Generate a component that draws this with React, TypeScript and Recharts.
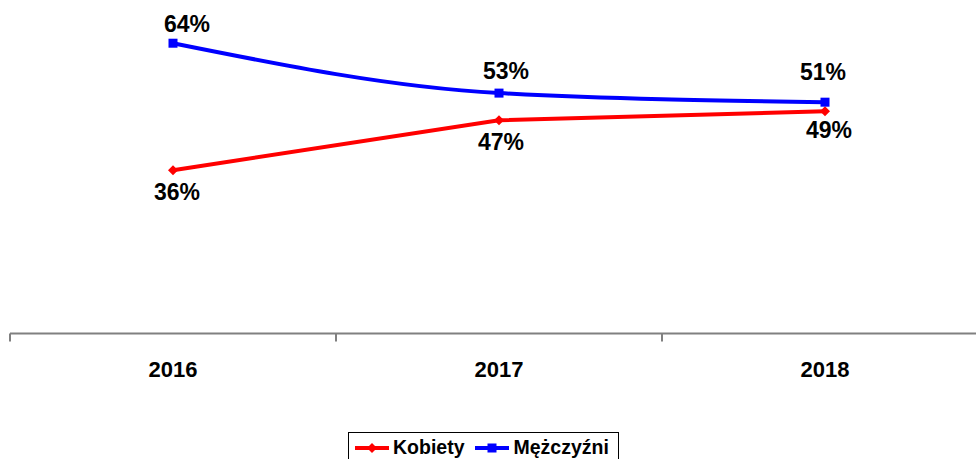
import React from 'react';
import { LineChart, Line, XAxis, YAxis, Legend } from 'recharts';

const years = ['2016', '2017', '2018'];
const kobiety = [36, 47, 49];
const mezczyzni = [64, 53, 51];
const axisTicks = [0, 0.5, 1, 1.5, 2, 2.5, 3];

const data = years.map((y, i) => ({ pos: i + 0.5, year: y, k: kobiety[i], m: mezczyzni[i] }));

const FONT = '"Liberation Sans", Arial, Helvetica, sans-serif';

// label placement tweaks (styling only)
const kOffsets = [[4, 30], [2, 30], [4, 27]];
const mOffsets = [[14, -11], [7, -14], [-2, -22]];

const AxisTick = (props: any) => {
  const { x, y, payload } = props;
  const v = payload.value;
  if (Number.isInteger(v)) {
    return <line x1={x} x2={x} y1={y} y2={y + 8} stroke="#808080" strokeWidth={2} />;
  }
  const idx = Math.floor(v);
  return (
    <text x={x} y={y + 43} textAnchor="middle" fontFamily={FONT} fontWeight="bold" fontSize={22} fill="#000">
      {years[idx]}
    </text>
  );
};

const makeLabel = (offsets: number[][]) => (props: any) => {
  const { x, y, value, index } = props;
  const [dx, dy] = offsets[index] || [0, 0];
  return (
    <text x={x + dx} y={y + dy} textAnchor="middle" fontFamily={FONT} fontWeight="bold" fontSize={23} fill="#000">
      {value}%
    </text>
  );
};

const Diamond = (props: any) => {
  const { cx, cy } = props;
  if (cx == null || cy == null) return null;
  const r = 5;
  return <path d={`M${cx},${cy - r}L${cx + r},${cy}L${cx},${cy + r}L${cx - r},${cy}Z`} fill="#FF0000" />;
};

const Square = (props: any) => {
  const { cx, cy } = props;
  if (cx == null || cy == null) return null;
  return <rect x={cx - 4.5} y={cy - 4.5} width={9} height={9} fill="#0000FF" />;
};

const LegendContent = () => (
  <div
    style={{
      border: '1px solid #000',
      background: '#fff',
      display: 'flex',
      alignItems: 'center',
      padding: '3px 9px 6px 6px',
      fontFamily: FONT,
      fontWeight: 'bold',
      fontSize: 19.5,
      color: '#000',
      whiteSpace: 'nowrap',
    }}
  >
    <svg width={34} height={12} style={{ marginRight: 4 }}>
      <line x1={0} x2={34} y1={6} y2={6} stroke="#FF0000" strokeWidth={4} />
      <path d="M17,1L22,6L17,11L12,6Z" fill="#FF0000" />
    </svg>
    <span style={{ marginRight: 10 }}>Kobiety</span>
    <svg width={34} height={12} style={{ marginRight: 5 }}>
      <line x1={0} x2={34} y1={6} y2={6} stroke="#0000FF" strokeWidth={4} />
      <rect x={12.5} y={1.5} width={9} height={9} fill="#0000FF" />
    </svg>
    <span>Mężczyźni</span>
  </div>
);

export default function App() {
  return (
    <div style={{ position: 'absolute', left: 0, top: 0, width: 976, height: 459, overflow: 'hidden', background: '#fff' }}>
      <LineChart width={988} height={459} data={data} margin={{ top: 16, right: 0, bottom: 65.5, left: 10 }}>
        <XAxis
          dataKey="pos"
          type="number"
          domain={[0, 3]}
          ticks={axisTicks}
          interval={0}
          tick={<AxisTick />}
          tickLine={false}
          tickSize={0}
          tickMargin={0}
          height={60}
          axisLine={{ stroke: '#808080', strokeWidth: 2 }}
          allowDataOverflow
        />
        <YAxis hide domain={[0, 70]} />
        <Legend
          layout="horizontal"
          verticalAlign="middle"
          align="center"
          content={<LegendContent />}
          wrapperStyle={{ position: 'absolute', left: 348, top: 432, width: 'auto', bottom: 'auto' }}
        />
        <Line
          type="linear"
          dataKey="k"
          name="Kobiety"
          stroke="#FF0000"
          strokeWidth={4}
          dot={<Diamond />}
          activeDot={false}
          label={makeLabel(kOffsets)}
          isAnimationActive={false}
        />
        <Line
          type="monotone"
          dataKey="m"
          name="Mężczyźni"
          stroke="#0000FF"
          strokeWidth={4}
          dot={<Square />}
          activeDot={false}
          label={makeLabel(mOffsets)}
          isAnimationActive={false}
        />
      </LineChart>
    </div>
  );
}
